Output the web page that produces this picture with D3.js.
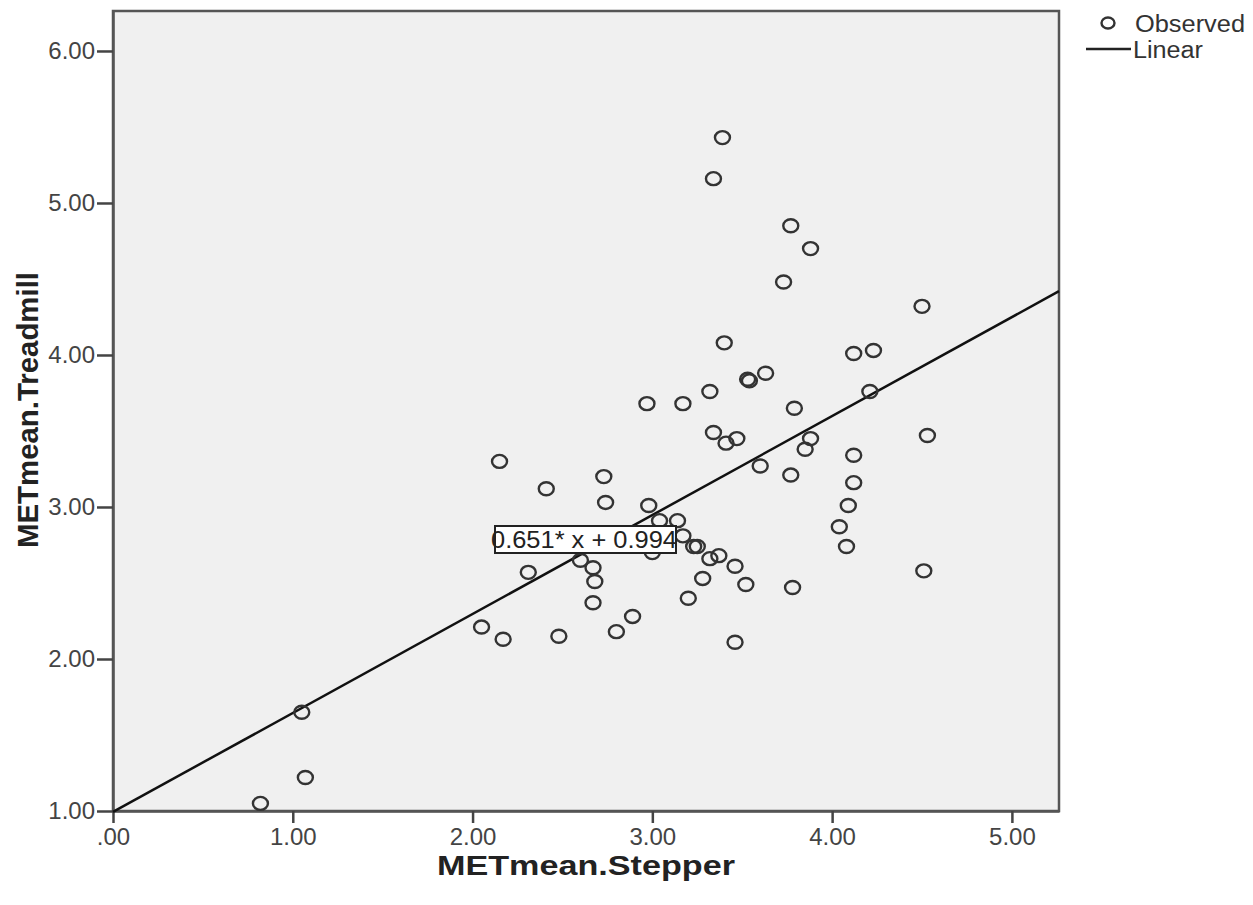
<!DOCTYPE html>
<html>
<head>
<meta charset="utf-8">
<script src="https://cdn.jsdelivr.net/npm/d3@7"></script>
<style>
  body { margin: 0; background: #fff; }
  text { font-family: "Liberation Sans", Arial, sans-serif; }
</style>
</head>
<body>
<svg id="chart" width="1253" height="905"></svg>
<script>
// METmean.Stepper (x) vs METmean.Treadmill (y)
const stepper = [0.82,1.05,1.07,2.05,2.17,2.15,2.31,2.41,2.48,2.60,2.67,2.68,2.67,2.73,2.74,2.80,2.89,
  2.97,2.98,3.00,3.04,3.14,3.17,3.17,3.20,3.23,3.25,3.28,3.32,3.37,3.32,3.34,3.39,3.40,3.34,3.41,3.47,
  3.46,3.52,3.46,3.53,3.54,3.63,3.60,3.73,3.77,3.79,3.77,3.78,3.88,3.88,3.85,4.04,4.09,4.08,4.12,4.12,
  4.12,4.23,4.21,4.50,4.53,4.51];
const treadmill = [1.05,1.65,1.22,2.21,2.13,3.30,2.57,3.12,2.15,2.65,2.60,2.51,2.37,3.20,3.03,2.18,2.28,
  3.68,3.01,2.70,2.91,2.91,2.81,3.68,2.40,2.74,2.74,2.53,2.66,2.68,3.76,5.16,5.43,4.08,3.49,3.42,3.45,
  2.61,2.49,2.11,3.84,3.83,3.88,3.27,4.48,4.85,3.65,3.21,2.47,4.70,3.45,3.38,2.87,3.01,2.74,3.16,3.34,
  4.01,4.03,3.76,4.32,3.47,2.58];
const xTicks = [0, 1, 2, 3, 4, 5];
const yTicks = [1, 2, 3, 4, 5, 6];
const slope = 0.651, intercept = 0.994;
const eqLabel = "0.651* x + 0.994";

const svg = d3.select("#chart");
const pLeft = 113, pRight = 1059, pTop = 11, pBottom = 811;

const x = d3.scaleLinear().domain([0, 5.262]).range([pLeft, pRight]);
const y = d3.scaleLinear().domain([1, 6.263]).range([pBottom, pTop]);
const fmt = d => d === 0 ? ".00" : d3.format(".2f")(d);

// plot background + frame
svg.append("rect")
  .attr("x", pLeft).attr("y", pTop)
  .attr("width", pRight-pLeft).attr("height", pBottom-pTop)
  .attr("fill", "#f0f0f0")
  .attr("stroke", "#555").attr("stroke-width", 2.5);

// axes
const xAxis = svg.append("g")
  .attr("transform", `translate(0,${pBottom})`)
  .call(d3.axisBottom(x).tickValues(xTicks).tickFormat(fmt).tickSize(12).tickSizeOuter(0));
const yAxis = svg.append("g")
  .attr("transform", `translate(${pLeft},0)`)
  .call(d3.axisLeft(y).tickValues(yTicks).tickFormat(fmt).tickSize(16).tickSizeOuter(0));

[xAxis, yAxis].forEach(g => {
  g.select(".domain").attr("stroke", "#555").attr("stroke-width", 2.5);
  g.selectAll(".tick line").attr("stroke", "#444").attr("stroke-width", 2.5);
  g.selectAll(".tick text")
    .attr("fill", "#444")
    .style("font-size", "24px");
});
xAxis.selectAll(".tick text").attr("dy", "0.71em").attr("y", 17);
yAxis.selectAll(".tick text").attr("x", -18);

// fit line
const line = d3.line().x(d => x(d)).y(d => y(slope*d + intercept));
svg.append("path")
  .datum([0, 5.262])
  .attr("d", line)
  .attr("fill", "none")
  .attr("stroke", "#111")
  .attr("stroke-width", 2.5);

// observed points
svg.append("g")
  .selectAll("ellipse")
  .data(stepper.map((s, i) => ({s, t: treadmill[i]})))
  .join("ellipse")
  .attr("cx", d => x(d.s))
  .attr("cy", d => y(d.t))
  .attr("rx", 7.5).attr("ry", 6.5)
  .attr("fill", "none")
  .attr("stroke", "#333")
  .attr("stroke-width", 2.4);

// equation label
const eq = svg.append("g");
eq.append("rect")
  .attr("x", 495).attr("y", 526)
  .attr("width", 181).attr("height", 27)
  .attr("fill", "#fff")
  .attr("stroke", "#222").attr("stroke-width", 2);
eq.append("text")
  .attr("x", 584).attr("y", 548)
  .attr("text-anchor", "middle")
  .attr("textLength", 186).attr("lengthAdjust", "spacingAndGlyphs")
  .style("font-size", "24px")
  .attr("fill", "#222")
  .text(eqLabel);

// axis titles
svg.append("text")
  .attr("x", 586).attr("y", 875)
  .attr("text-anchor", "middle")
  .attr("textLength", 298).attr("lengthAdjust", "spacingAndGlyphs")
  .style("font-size", "28px").style("font-weight", "bold")
  .attr("fill", "#222")
  .text("METmean.Stepper");
svg.append("text")
  .attr("transform", `translate(38,410) rotate(-90)`)
  .attr("text-anchor", "middle")
  .attr("textLength", 276).attr("lengthAdjust", "spacingAndGlyphs")
  .style("font-size", "29px").style("font-weight", "bold")
  .attr("fill", "#222")
  .text("METmean.Treadmill");

// legend
const lg = svg.append("g");
lg.append("ellipse")
  .attr("cx", 1108).attr("cy", 23)
  .attr("rx", 6.5).attr("ry", 5.5)
  .attr("fill", "none").attr("stroke", "#333").attr("stroke-width", 2.4);
lg.append("text")
  .attr("x", 1135).attr("y", 32)
  .attr("textLength", 110).attr("lengthAdjust", "spacingAndGlyphs")
  .style("font-size", "23px").attr("fill", "#333")
  .text("Observed");
lg.append("line")
  .attr("x1", 1086).attr("x2", 1131)
  .attr("y1", 49).attr("y2", 49)
  .attr("stroke", "#222").attr("stroke-width", 2.5);
lg.append("text")
  .attr("x", 1133).attr("y", 58)
  .attr("textLength", 70).attr("lengthAdjust", "spacingAndGlyphs")
  .style("font-size", "23px").attr("fill", "#333")
  .text("Linear");
</script>
</body>
</html>
